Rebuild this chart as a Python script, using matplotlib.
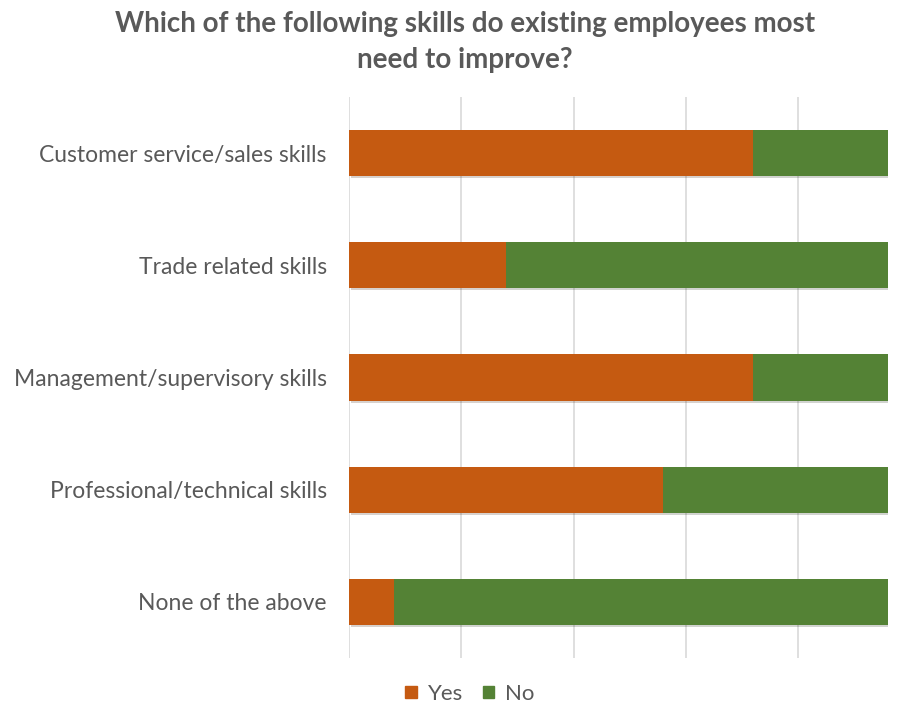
import matplotlib.pyplot as plt
import matplotlib.patheffects as pe
from matplotlib.patches import Patch

plt.rcParams['font.family'] = ['Lato', 'DejaVu Sans']

skills = ['Customer service/sales skills', 'Trade related skills',
          'Management/supervisory skills', 'Professional/technical skills',
          'None of the above']
yes_counts = [18, 7, 18, 14, 2]
no_counts = [6, 17, 6, 10, 22]

orange = '#C55A11'
green = '#548235'
text_grey = '#595959'

fig = plt.figure(figsize=(8.97, 7.06), dpi=100)
ax = fig.add_axes([349 / 897, 1 - 658 / 706, 539 / 897, 561 / 706])

pos = list(range(len(skills)))
shadow = [pe.SimplePatchShadow(offset=(1.5, -1.5), alpha=0.2), pe.Normal()]
b1 = ax.barh(pos, yes_counts, height=0.41, color=orange, zorder=3)
b2 = ax.barh(pos, no_counts, left=yes_counts, height=0.41, color=green, zorder=3)
for bar in list(b1) + list(b2):
    bar.set_path_effects(shadow)

ax.set_xlim(0, 24)
ax.set_ylim(len(skills) - 0.5, -0.5)
ax.set_xticks([0, 5, 10, 15, 20])
ax.set_xticklabels([])
ax.set_yticks(pos)
ax.set_yticklabels(skills, fontsize=16.5, color=text_grey)
ax.tick_params(length=0, pad=16)
ax.grid(axis='x', color='#D9D9D9', linewidth=1.2, zorder=0)
for s in ax.spines.values():
    s.set_visible(False)

fig.text(465 / 897, 1 - 42 / 706, 'Which of the following skills do existing employees most\nneed to improve?',
         ha='center', va='center', fontsize=20, fontweight='bold', color=text_grey,
         linespacing=1.45)

handles = [Patch(color=orange, label='Yes'), Patch(color=green, label='No')]
fig.legend(handles=handles, loc='center', bbox_to_anchor=(470 / 897, 1 - 694 / 706),
           ncol=2, frameon=False, fontsize=16, labelcolor=text_grey,
           handlelength=0.5, handleheight=0.5, handletextpad=0.5, columnspacing=0.9)

fig.savefig('out.png', dpi=100)
